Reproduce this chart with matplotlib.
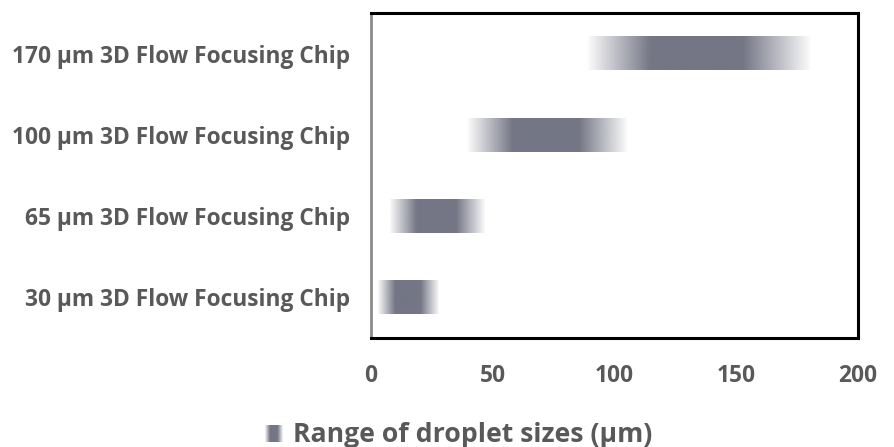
from matplotlib import pyplot as plt
import numpy as np

# 数据
chips = ["30 µm 3D Flow Focusing Chip", "65 µm 3D Flow Focusing Chip",
         "100 µm 3D Flow Focusing Chip", "170 µm 3D Flow Focusing Chip"]
size_min = [3, 8, 40, 89]          # 液滴尺寸下限 (µm)
size_max = [28, 47, 105, 180]      # 液滴尺寸上限 (µm)
xticks = [0, 50, 100, 150, 200]
legend_label = "Range of droplet sizes (µm)"

bar_rgb = np.array([116, 118, 133]) / 255.0
text_color = "#595959"
plt.rcParams['font.family'] = ['Open Sans', 'DejaVu Sans']
plt.rcParams['font.weight'] = 'bold'


def gradient_img(n=200):
    """两端渐隐的横向渐变"""
    t = np.linspace(0, 1, n)
    alpha = np.minimum(np.clip(t / 0.28, 0, 1), np.clip((1 - t) / 0.30, 0, 1))
    alpha = 0.04 + 0.96 * alpha
    img = np.zeros((1, n, 4))
    img[0, :, :3] = bar_rgb
    img[0, :, 3] = alpha
    return img


fig = plt.figure(figsize=(8.94, 4.47), dpi=100)
ax = fig.add_axes([0.415, 0.2438, 0.5447, 0.7272])

h = 0.41
for i in range(len(chips)):
    ax.imshow(gradient_img(), extent=(size_min[i], size_max[i], i - h / 2, i + h / 2),
              aspect='auto', interpolation='bilinear', zorder=2)

ax.set_xlim(0, 200)
ax.set_ylim(-0.5, len(chips) - 0.5)
ax.set_xticks(xticks)
ax.set_xticklabels([str(v) for v in xticks])
ax.set_yticks(range(len(chips)))
ax.set_yticklabels(chips)
ax.tick_params(axis='both', length=0, labelsize=16.4, labelcolor=text_color)
ax.tick_params(axis='y', pad=15)
ax.tick_params(axis='x', pad=18.5)

for side in ['top', 'right', 'bottom']:
    ax.spines[side].set_linewidth(2.2)
    ax.spines[side].set_color('black')
ax.spines['left'].set_linewidth(2)
ax.spines['left'].set_color('#8c8c8c')

# 图例
lax = fig.add_axes([265 / 894, 1 - 442 / 447, 18 / 894, 17 / 447])
lax.imshow(gradient_img(), aspect='auto', interpolation='bilinear')
lax.axis('off')
fig.text(293 / 894, 1 - 442 / 447, legend_label, fontsize=19.2, color=text_color,
         va='baseline', ha='left')

fig.savefig("out.png", dpi=100)
